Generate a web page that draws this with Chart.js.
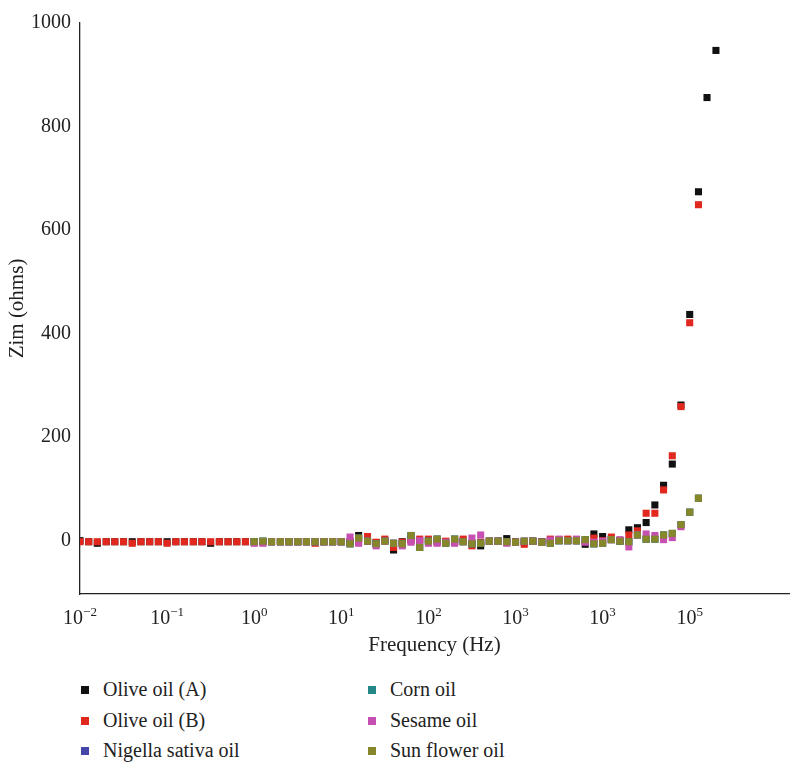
<!DOCTYPE html>
<html>
<head>
<meta charset="utf-8">
<script src="https://cdn.jsdelivr.net/npm/chart.js@4"></script>
<style>
body { margin: 0; background: #fff; font-family: "Liberation Serif", serif; }
#wrap { position: relative; width: 794px; height: 762px; }
#box { position: absolute; left: 0; top: 0; width: 794px; height: 660px; }
.item { position: absolute; height: 24px; line-height: 24px; font-size: 20px; color: #222; white-space: nowrap; }
.item .mark { display: inline-block; width: 8px; height: 8px; margin-right: 14px; vertical-align: middle; position: relative; top: -1px; }
</style>
</head>
<body>
<div id="wrap">
	<div id="box"><canvas id="chartID"></canvas></div>
	<div id="legend"></div>
</div>
<script>
// frequencies, 10 points per decade (Hz)
const freqs = [
	0.01, 0.0126, 0.0158, 0.02, 0.0251, 0.0316, 0.0398, 0.0501, 0.0631, 0.0794,
	0.1, 0.126, 0.158, 0.2, 0.251, 0.316, 0.398, 0.501, 0.631, 0.794,
	1, 1.26, 1.58, 2, 2.51, 3.16, 3.98, 5.01, 6.31, 7.94,
	10, 12.6, 15.8, 20, 25.1, 31.6, 39.8, 50.1, 63.1, 79.4,
	100, 126, 158, 200, 251, 316, 398, 501, 631, 794,
	1000, 1260, 1580, 2000, 2510, 3160, 3980, 5010, 6310, 7940,
	10000, 12600, 15800, 20000, 25100, 31600, 39800, 50100, 63100, 79400,
	100000, 126000, 158000, 200000,
]

// Zim (ohms) for each oil, same index as freqs, null = no point
const oliveA = [
	0, -2, -5, -2, -2, -2, -2, -2, -2, -2,
	-2, -2, -2, -2, -2, -5, -2, -2, -2, -2,
	-2, -2, -2, -2, -2, -2, -2, -2, -2, -2,
	-2, -2, 10, -1, -4, 0, -18, -2, 3, 0,
	0, -2, -2, -2, -1, -5, -10, -1, -1, 4,
	-2, -3, -1, -2, 0, 0, 0, 0, -7, 13,
	8, 3, 0, 21, 25, 35, 69, 107, 148, 262,
	437, 674, 856, 947,
]
const oliveB = [
	-2, -2, -2, -2, -2, -2, -5, -2, -2, -2,
	-5, -2, -2, -2, -2, -2, -2, -2, -2, -2,
	-2, -2, -2, -2, -2, -2, -2, -5, -2, -2,
	-2, -2, -2, 8, -3, 3, -13, -3, 0, 3,
	3, -2, -1, -2, 3, -10, -3, -1, -1, -2,
	-2, -7, -1, -2, 3, 2, 3, 0, 0, 5,
	0, 7, 0, 11, 19, 53, 53, 98, 164, 259,
	421, 649,
]
const nigella = [
	null, null, null, null, null, null, null, null, null, null,
	null, null, null, null, null, null, null, null, null, null,
	-2, -1, -2, -2, -2, -2, -2, -2, -2, -2,
	-2, -6, 5, -1, -6, -1, -5, -6, 10, -13,
	-1, 3, -5, 3, -2, -6, -5, -1, -1, -2,
	-3, -1, -1, -3, -5, 0, 0, 0, 2, -6,
	-5, 2, -1, -2, 11, 3, 3, 11, 14, 31,
	55, 82,
]
const corn = [
	null, null, null, null, null, null, null, null, null, null,
	null, null, null, null, null, null, null, null, null, null,
	-2, -1, -2, -2, -2, -2, -2, -2, -2, -2,
	-2, -6, 5, -1, -6, -1, -5, -6, 10, -13,
	-1, 3, -5, 3, -2, -6, -5, -1, -1, -2,
	-3, -1, -1, -3, -5, 0, 0, 0, 2, -6,
	-5, 2, -1, -2, 11, 3, 3, 11, 14, 31,
	55, 82,
]
const sesame = [
	null, null, null, null, null, null, null, null, null, null,
	null, null, null, null, null, null, null, null, null, null,
	-5, -5, -2, -2, -2, -2, -2, -2, -2, -2,
	-2, 7, -5, -1, -10, -1, -5, -10, -3, 0,
	-5, -5, -3, -5, -2, 5, 11, -1, -1, -5,
	-3, -1, -1, -3, 1, 3, 0, 3, -3, -3,
	-1, 2, 2, -12, 11, 13, 10, 2, 6, 27,
]
const sunflower = [
	null, null, null, null, null, null, null, null, null, null,
	null, null, null, null, null, null, null, null, null, null,
	-2, -1, -2, -2, -2, -2, -2, -2, -2, -2,
	-2, -6, 5, -1, -6, -1, -5, -6, 10, -13,
	-1, 3, -5, 3, -2, -6, -5, -1, -1, -2,
	-3, -1, -1, -3, -5, 0, 0, 0, 2, -6,
	-5, 2, -1, -2, 11, 3, 3, 11, 14, 31,
	55, 82,
]

const seriesNames = ['Olive oil (A)', 'Olive oil (B)', 'Nigella sativa oil', 'Corn oil', 'Sesame oil', 'Sun flower oil']
const seriesColors = ['#111111', '#e0281e', '#4646aa', '#238886', '#c650b2', '#86862a']
const seriesValues = [oliveA, oliveB, nigella, corn, sesame, sunflower]

const yTicks = [0, 200, 400, 600, 800, 1000]
const xTickValues = [0.01, 0.1, 1, 10, 100, 1000, 10000, 100000]
const xTickExps = ['\u22122', '\u22121', '0', '1', '2', '3', '3', '5']

const serif = '"Liberation Serif", "Times New Roman", serif'
const textColor = '#222'

function toPoints(vals) {
	let pts = []
	vals.forEach(function(v, i) {
		if (v !== null) pts.push({x: freqs[i], y: v})
	})
	return pts
}

const datasets = seriesNames.map(function(name, k) {
	return {
		label: name,
		data: toPoints(seriesValues[k]),
		showLine: false,
		pointStyle: 'rect',
		pointRadius: 5,
		pointHoverRadius: 5,
		pointBorderWidth: 0,
		backgroundColor: seriesColors[k],
		borderColor: seriesColors[k],
		// first series at the bottom, sun flower on top
		order: seriesNames.length - k,
	}
})

// tick labels on the x axis as 10 with a raised exponent
const powerLabels = {
	id: 'powerLabels',
	afterDraw(chart) {
		const ctx = chart.ctx
		const xs = chart.scales.x
		ctx.save()
		ctx.fillStyle = textColor
		ctx.textBaseline = 'alphabetic'
		ctx.textAlign = 'left'
		xTickValues.forEach(function(v, i) {
			ctx.font = '20px ' + serif
			const wb = ctx.measureText('10').width
			ctx.font = '13px ' + serif
			const we = ctx.measureText(xTickExps[i]).width
			const left = xs.getPixelForValue(v) - (wb + we) / 2
			ctx.font = '20px ' + serif
			ctx.fillText('10', left, xs.top + 30)
			ctx.font = '13px ' + serif
			ctx.fillText(xTickExps[i], left + wb, xs.top + 22)
		})
		ctx.restore()
	},
}

let chartCtx = document.getElementById('chartID').getContext('2d')
let scatterChart = new Chart(chartCtx, {
	type: 'scatter',
	data: {datasets: datasets},
	options: {
		responsive: true,
		maintainAspectRatio: false,
		animation: false,
		layout: {padding: {top: 23, right: 1, left: 0, bottom: 0}},
		plugins: {
			legend: {display: false},
			tooltip: {enabled: false},
		},
		scales: {
			x: {
				type: 'logarithmic',
				min: 0.01,
				max: 1380000,
				grid: {display: false, drawTicks: false},
				border: {display: true, color: '#222', width: 1.3},
				ticks: {display: false},
				title: {
					display: true,
					text: 'Frequency (Hz)',
					color: textColor,
					font: {family: serif, size: 21},
					padding: {top: 0, bottom: 2},
				},
				afterFit: function(scale) { scale.height = 66 },
			},
			y: {
				type: 'linear',
				min: -103,
				max: 1000,
				grid: {display: false, drawTicks: false},
				border: {display: true, color: '#222', width: 1.3},
				ticks: {
					padding: 9,
					color: textColor,
					font: {family: serif, size: 20},
					callback: function(value) { return String(value) },
				},
				afterBuildTicks: function(scale) {
					scale.ticks = yTicks.map(function(v) { return {value: v} })
				},
				title: {
					display: true,
					text: 'Zim (ohms)',
					color: textColor,
					font: {family: serif, size: 21},
					padding: {top: 5, bottom: 0},
				},
				afterFit: function(scale) { scale.width = 80 },
			},
		},
	},
	plugins: [powerLabels],
})

// legend in two columns under the chart
const legendEl = document.getElementById('legend')
const colLeft = [81, 368]
const rowMid = [689, 720, 750]
scatterChart.data.datasets.forEach(function(ds, k) {
	const col = Math.floor(k / 3)
	const row = k % 3
	let item = document.createElement('div')
	item.className = 'item'
	item.style.left = colLeft[col] + 'px'
	item.style.top = (rowMid[row] - 12) + 'px'
	let mark = document.createElement('span')
	mark.className = 'mark'
	mark.style.background = ds.backgroundColor
	item.appendChild(mark)
	item.appendChild(document.createTextNode(ds.label))
	legendEl.appendChild(item)
})
</script>
</body>
</html>
